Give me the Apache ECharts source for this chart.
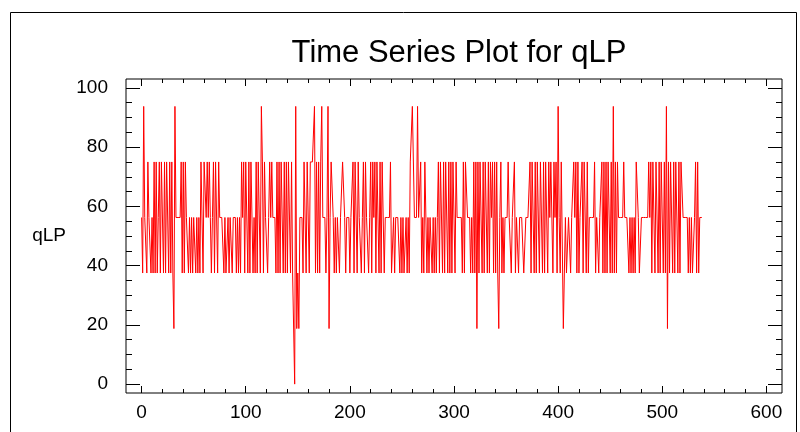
<!DOCTYPE html>
<html>
<head>
<meta charset="utf-8">
<script src="https://cdn.jsdelivr.net/npm/echarts@6/dist/echarts.min.js"></script>
<style>
  html, body { margin: 0; padding: 0; background: #fff; }
  #chart { width: 800px; height: 432px; }
</style>
</head>
<body>
<div id="chart"></div>
<script>
// qLP readings, in order of observation (x = 0, 1, 2, ...)
var blockA = [
  56.25,37.5,93.75,56.25,56.25,37.5,75,56.25,56.25,37.5,
  56.25,37.5,75,37.5,75,37.5,56.25,75,37.5,75,
  75,37.5,75,37.5,75,75,37.5,75,37.5,75,
  37.5,18.75,93.75,56.25,56.25,56.25,56.25,56.25,75,37.5,
  75,37.5,75,56.25,56.25,37.5,56.25,37.5,56.25,37.5,
  56.25,56.25,37.5,56.25
];
var blockB = [
  37.5,56.25,37.5,75,75,37.5,75,75,56.25,75,
  56.25,75,56.25,37.5,56.25,75,37.5,75,75,37.5,
  75,56.25,56.25,56.25,56.25,37.5,56.25,37.5,37.5,56.25,
  37.5,56.25,56.25,37.5,56.25,56.25,56.25,37.5,56.25,37.5,
  56.25,37.5,75,56.25,75,37.5,75,75,37.5,75,
  37.5,75,75,37.5
];
var blockC = [
  56.25,37.5,75,37.5,75,75,37.5,93.75,75,37.5,
  75,56.25,56.25,37.5,56.25,75,56.25,75,56.25,56.25,
  56.25,37.5,75,37.5,75,37.5,75,75,37.5,75,
  37.5,75,37.5,75,75,37.5,75,37.5,37.5,0,
  93.75,18.75,37.5,18.75,56.25,56.25,56.25,37.5,75,75,
  37.5,75,75,37.5,75,75,75
];
var blockD = [
  75,93.75,37.5,75,37.5,75,37.5,75,93.75,56.25,
  56.25,56.25,37.5,56.25,93.75,18.75,56.25,75,75,56.25,
  37.5,56.25,37.5,56.25,56.25,37.5,56.25,56.25,75,75,
  56.25,37.5,56.25,56.25,56.25,37.5,56.25,56.25,75,37.5,
  75,75,37.5,75,56.25,56.25,37.5,56.25,75,37.5,
  75,56.25,56.25,37.5,56.25,75
];
var blockE = [
  37.5,75,56.25,75,37.5,75,75,37.5,75,37.5,
  75,75,37.5,56.25,56.25,56.25,56.25,56.25,75,37.5,
  37.5,56.25,37.5,56.25,56.25,56.25,56.25,37.5,56.25,37.5,
  56.25,37.5,37.5,56.25,37.5,56.25,37.5,75,75,93.75,
  93.75,56.25,56.25,56.25,93.75,56.25,56.25,75,37.5,56.25,
  37.5,75,75,37.5,56.25,37.5
];
var blockF = [
  56.25,56.25,37.5,56.25,37.5,56.25,37.5,56.25,75,37.5,
  75,75,37.5,75,37.5,75,75,37.5,75,37.5,
  75,37.5,75,75,37.5,75,56.25,56.25,56.25,56.25,
  56.25,37.5,75,37.5,75,75,56.25,56.25,56.25,37.5,
  56.25,37.5,75,37.5,75,18.75,75,37.5,75,75,
  37.5,75,37.5,75,75,37.5
];
var blockG = [
  75,37.5,75,56.25,75,37.5,75,37.5,75,37.5,
  18.75,56.25,75,37.5,56.25,37.5,56.25,56.25,56.25,75,
  56.25,56.25,37.5,56.25,56.25,75,37.5,56.25,56.25,37.5,
  56.25,56.25,56.25,56.25,37.5,37.5,56.25,56.25,56.25,56.25,
  75,37.5,75,75,37.5,75,37.5,75,75,37.5,
  75,75,37.5,75,37.5,75
];
var blockH = [
  75,37.5,75,56.25,75,75,37.5,75,56.25,75,
  37.5,93.75,56.25,37.5,75,75,18.75,37.5,56.25,37.5,
  37.5,56.25,56.25,37.5,56.25,56.25,75,56.25,75,37.5,
  75,37.5,56.25,56.25,75,37.5,75,75,37.5,75,
  37.5,56.25,56.25,56.25,56.25,56.25,75,37.5,56.25,56.25,
  37.5,56.25,56.25,75,37.5,75
];
var blockI = [
  37.5,75,37.5,75,75,37.5,75,37.5,93.75,37.5,
  75,37.5,75,56.25,56.25,56.25,56.25,56.25,75,56.25,
  56.25,56.25,56.25,37.5,56.25,37.5,56.25,37.5,56.25,37.5,
  75,75,56.25,37.5,37.5,56.25,56.25,56.25,56.25,56.25,
  56.25,56.25,75,56.25,75,37.5,75,75,37.5,75,
  75,37.5,75,37.5,75,75
];
var blockJ = [
  37.5,75,37.5,93.75,18.75,75,37.5,75,75,37.5,
  75,37.5,75,75,37.5,75,37.5,75,75,56.25,
  56.25,56.25,56.25,56.25,37.5,56.25,37.5,56.25,37.5,37.5,
  56.25,75,37.5,75,37.5,56.25,56.25,56.25
];

var xTicks = [0, 100, 200, 300, 400, 500, 600];
var yTicks = [0, 20, 40, 60, 80, 100];

(function(){
    var qLP = blockA.concat(blockB, blockC, blockD, blockE, blockF, blockG, blockH, blockI, blockJ);
    var points = qLP.map(function(v, i){ return [i, v]; });

    // minor tick spots between the labelled ones
    var xMinor = [], yMinor = [];
    for (var x = 0; x <= 600; x += 20) { if (x % 100) xMinor.push(x); }
    for (var y = 0; y <= 100; y += 5) { if (y % 20) yMinor.push(y); }

    var font = 'Liberation Sans, Arial, sans-serif';
    var X_MIN = -15, X_MAX = 615, Y_MIN = -3, Y_MAX = 103;

    function xAx(pos, ticks, len, labels){
        return {
            type: 'value', position: pos, min: X_MIN, max: X_MAX,
            axisLine: { show: false, onZero: false },
            splitLine: { show: false },
            axisTick: { show: true, inside: true, length: len, customValues: ticks,
                        lineStyle: { color: '#000', width: 1 } },
            axisLabel: { show: labels, customValues: ticks, color: '#000', fontSize: 19,
                         fontFamily: font, margin: 10 }
        };
    }
    function yAx(pos, ticks, len, labels){
        return {
            type: 'value', position: pos, min: Y_MIN, max: Y_MAX,
            axisLine: { show: false, onZero: false },
            splitLine: { show: false },
            axisTick: { show: true, inside: true, length: len, customValues: ticks,
                        lineStyle: { color: '#000', width: 1 } },
            axisLabel: { show: labels, customValues: ticks, color: '#000', fontSize: 19,
                         fontFamily: font, margin: 18 }
        };
    }

    var yMain = yAx('left', yTicks, 14, true);
    yMain.name = 'qLP';
    yMain.nameLocation = 'middle';
    yMain.nameRotate = 0;
    yMain.nameGap = 60;
    yMain.nameTextStyle = { color: '#000', fontSize: 19, fontFamily: font };

    var chart = echarts.init(document.getElementById('chart'), null, { renderer: 'canvas' });
    chart.setOption({
        animation: false,
        backgroundColor: '#fff',
        title: {
            text: 'Time Series Plot for qLP',
            left: 454, top: 33, textAlign: 'center',
            textStyle: { color: '#000', fontSize: 31, fontWeight: 'normal', fontFamily: font }
        },
        grid: {
            left: 126, right: 18, top: 79, bottom: 39,
            show: true, borderColor: '#000', borderWidth: 1, backgroundColor: 'transparent'
        },
        xAxis: [
            xAx('bottom', xTicks, 7, true),
            xAx('bottom', xMinor, 4, false),
            xAx('top', xTicks, 7, false),
            xAx('top', xMinor, 4, false)
        ],
        yAxis: [
            yMain,
            yAx('left', yMinor, 6, false),
            yAx('right', yTicks, 14, false),
            yAx('right', yMinor, 6, false)
        ],
        graphic: [{
            type: 'rect', silent: true,
            shape: { x: 10.5, y: 12.5, width: 786, height: 440 },
            style: { fill: 'none', stroke: '#000', lineWidth: 1 }
        }],
        series: [{
            type: 'line',
            xAxisIndex: 0, yAxisIndex: 0,
            data: points,
            showSymbol: false,
            symbol: 'none',
            lineStyle: { color: '#ff0000', width: 1 }
        }]
    });
})();
</script>
</body>
</html>
